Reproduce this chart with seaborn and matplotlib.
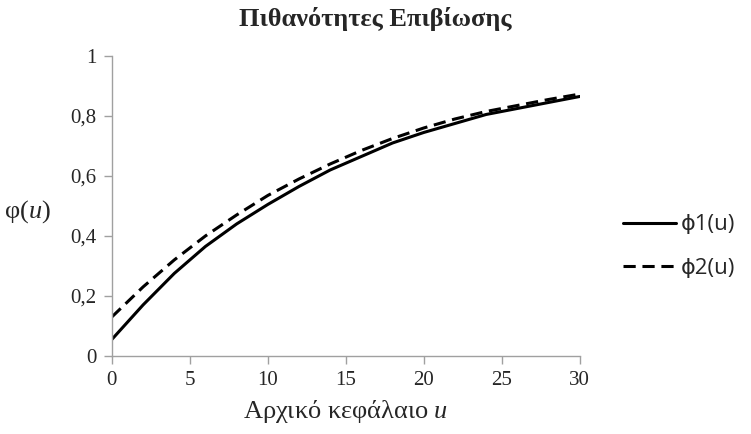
import matplotlib
matplotlib.use('Agg')
import matplotlib.pyplot as plt
import seaborn as sns
import pandas as pd

u_values = [0, 2, 4, 6, 8, 10, 12, 14, 16, 18, 20, 22, 24, 26, 28, 30]
phi1 = [0.055, 0.17, 0.275, 0.365, 0.44, 0.505, 0.565, 0.62, 0.665, 0.71,
        0.745, 0.775, 0.805, 0.825, 0.845, 0.865]
phi2 = [0.13, 0.23, 0.32, 0.40, 0.47, 0.535, 0.59, 0.64, 0.685, 0.725,
        0.76, 0.79, 0.815, 0.835, 0.855, 0.873]
labels = ['ϕ1(u)', 'ϕ2(u)']
x_ticks = [0, 5, 10, 15, 20, 25, 30]
y_ticks = [0, 0.2, 0.4, 0.6, 0.8, 1.0]

sns.set_style('white')
plt.rcParams['font.family'] = ['Liberation Serif', 'DejaVu Serif']
plt.rcParams['mathtext.fontset'] = 'custom'
plt.rcParams['mathtext.it'] = 'Liberation Serif:italic'
plt.rcParams['mathtext.rm'] = 'Liberation Serif'

df = pd.DataFrame({'u': u_values * 2,
                   'phi': phi1 + phi2,
                   'series': [labels[0]] * len(u_values) + [labels[1]] * len(u_values)})

fig = plt.figure(figsize=(7.51, 4.34), dpi=100)
ax = fig.add_axes([0.149, 0.180, 0.623, 0.691])

sns.lineplot(data=df, x='u', y='phi', style='series', style_order=labels,
             dashes={labels[0]: '', labels[1]: (4, 2.2)}, color='black',
             linewidth=2.2, ax=ax, legend=True)

ax.set_xlim(0, 30)
ax.set_ylim(0, 1)
ax.set_xticks(x_ticks)
ax.set_yticks(y_ticks)
ax.set_xticklabels([str(t) for t in x_ticks])
ax.set_yticklabels([('%g' % t).replace('.', ',') for t in y_ticks])
ax.tick_params(axis='both', labelsize=15, length=6, width=1, color='#a0a0a0',
               direction='out', bottom=True, left=True, pad=5)
for s in ['top', 'right']:
    ax.spines[s].set_visible(False)
for s in ['left', 'bottom']:
    ax.spines[s].set_color('#a0a0a0')
    ax.spines[s].set_linewidth(1)

ax.set_xlabel('Αρχικό κεφάλαιο $u$', fontsize=19, labelpad=6)
ax.set_ylabel('φ($u$)', fontsize=19, rotation=0, ha='center', va='center')
ax.yaxis.set_label_coords(-0.18, 0.48)
fig.suptitle('Πιθανότητες Επιβίωσης', fontsize=19, fontweight='bold',
             x=0.5, y=0.985, va='top')

handles, _ = ax.get_legend_handles_labels()
leg = ax.legend(handles, labels, loc='center left', bbox_to_anchor=(1.05, 0.365),
                frameon=False, prop={'family': ['Open Sans', 'DejaVu Sans'], 'size': 16},
                handlelength=2.4, handletextpad=0.2, labelspacing=1.0)

plt.savefig('out.png', dpi=100)
